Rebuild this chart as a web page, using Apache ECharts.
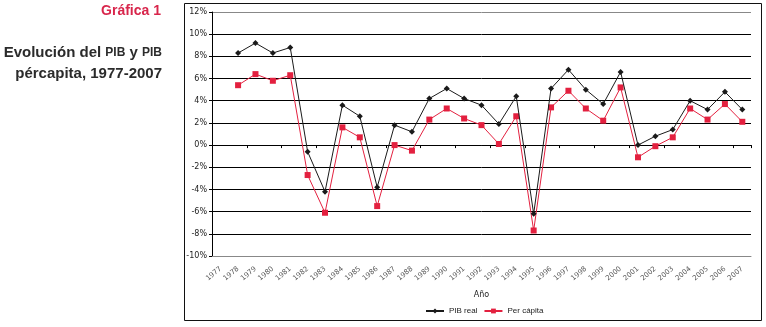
<!DOCTYPE html>
<html>
<head>
<meta charset="utf-8">
<script src="https://cdn.jsdelivr.net/npm/echarts@6/dist/echarts.min.js"></script>
<style>
	html, body { margin: 0; padding: 0; background: #fff; }
	#chart { width: 766px; height: 327px; }
</style>
</head>
<body>
<div id="chart"></div>
<script>
// años (1977 sin dato)
const years = ['1977', '1978', '1979', '1980', '1981', '1982', '1983', '1984', '1985', '1986',
	'1987', '1988', '1989', '1990', '1991', '1992', '1993', '1994', '1995', '1996',
	'1997', '1998', '1999', '2000', '2001', '2002', '2003', '2004', '2005', '2006', '2007'];

const pibReal = [null, 8.3, 9.2, 8.3, 8.8, -0.6, -4.2, 3.6, 2.6, -3.8,
	1.8, 1.2, 4.2, 5.1, 4.2, 3.6, 1.9, 4.4, -6.2, 5.1,
	6.8, 5.0, 3.7, 6.6, 0.0, 0.8, 1.4, 4.0, 3.2, 4.8, 3.2];

const perCapita = [null, 5.4, 6.4, 5.8, 6.3, -2.7, -6.1, 1.6, 0.7, -5.5,
	0.0, -0.5, 2.3, 3.3, 2.4, 1.8, 0.1, 2.6, -7.7, 3.4,
	4.9, 3.3, 2.2, 5.2, -1.1, -0.1, 0.7, 3.3, 2.3, 3.7, 2.1];

const seriesNames = ['PIB real', 'Per cápita'];

const myChart = echarts.init(document.getElementById('chart'));

const labelFont = 'DejaVu Sans';
const titleFont = 'Liberation Sans';

const option = {
	animation: false,
	graphic: [
		{
			type: 'text',
			x: 161,
			y: 11,
			silent: true,
			style: {
				text: 'Gráfica 1',
				align: 'right',
				verticalAlign: 'middle',
				font: 'bold 14px "Liberation Sans"',
				fill: '#d8254b'
			}
		},
		{
			type: 'text',
			x: 162,
			y: 53,
			silent: true,
			style: {
				text: 'Evolución del {s|PIB} y {s|PIB}',
				align: 'right',
				verticalAlign: 'middle',
				fontFamily: titleFont,
				fontWeight: 'bold',
				fontSize: 15,
				fill: '#2b2b2b',
				rich: {
					s: { fontFamily: titleFont, fontWeight: 'bold', fontSize: 12, fill: '#2b2b2b' }
				}
			}
		},
		{
			type: 'text',
			x: 162,
			y: 74,
			silent: true,
			style: {
				text: 'pércapita, 1977-2007',
				align: 'right',
				verticalAlign: 'middle',
				font: 'bold 15px "Liberation Sans"',
				fill: '#2b2b2b'
			}
		},
		{
			type: 'rect',
			shape: { x: 184.5, y: 3.5, width: 577, height: 317 },
			style: { fill: null, stroke: '#111', lineWidth: 1 },
			silent: true
		}
	],
	legend: {
		data: seriesNames,
		bottom: 7,
		left: 420,
		itemWidth: 18,
		itemHeight: 6,
		itemGap: 6,
		textStyle: { fontFamily: 'Liberation Sans', fontSize: 8, color: '#222' }
	},
	grid: {
		left: 212,
		right: 15,
		top: 12,
		bottom: 71,
		containLabel: false
	},
	xAxis: [
		{
			type: 'category',
			data: years,
			boundaryGap: true,
			axisLine: { onZero: true, lineStyle: { color: '#000', width: 1 } },
			axisTick: { show: true, length: 3, inside: false, lineStyle: { color: '#000' } },
			axisLabel: { show: false },
			splitLine: { show: false }
		},
		{
			type: 'category',
			data: years,
			position: 'bottom',
			boundaryGap: true,
			axisLine: { onZero: false, lineStyle: { color: '#888', width: 1 } },
			axisTick: { show: false },
			axisLabel: {
				rotate: 40,
				margin: 12,
				interval: 0,
				fontFamily: labelFont,
				fontSize: 7,
				color: '#555'
			},
			name: 'Año',
			nameLocation: 'middle',
			nameGap: 35,
			nameTextStyle: { fontFamily: labelFont, fontSize: 8, color: '#222' }
		}
	],
	yAxis: {
		type: 'value',
		min: -10,
		max: 12,
		interval: 2,
		axisLine: { show: true, lineStyle: { color: '#000', width: 1 } },
		axisTick: { show: true, length: 3, lineStyle: { color: '#000' } },
		axisLabel: {
			formatter: '{value}%',
			margin: 5,
			fontFamily: labelFont,
			fontSize: 8,
			color: '#222'
		},
		splitLine: {
			show: true,
			lineStyle: {
				color: ['#888', '#000', '#000', '#000', '#000', '#000', '#000', '#000', '#000', '#000', '#000', '#888'],
				width: 1
			}
		}
	},
	series: [
		{
			name: seriesNames[0],
			type: 'line',
			xAxisIndex: 0,
			data: pibReal,
			symbol: 'diamond',
			symbolSize: 6,
			lineStyle: { color: '#1a1a1a', width: 1 },
			itemStyle: { color: '#1a1a1a' },
			z: 3
		},
		{
			name: seriesNames[1],
			type: 'line',
			xAxisIndex: 0,
			data: perCapita,
			symbol: 'rect',
			symbolSize: 6,
			lineStyle: { color: '#e3203f', width: 1 },
			itemStyle: { color: '#e3203f' },
			z: 2
		}
	]
};

myChart.setOption(option);
</script>
</body>
</html>
